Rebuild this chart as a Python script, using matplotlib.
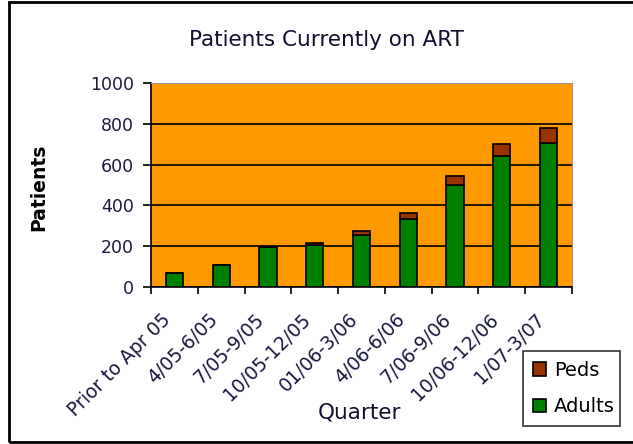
import numpy as np
import matplotlib.pyplot as plt
from matplotlib.patches import Rectangle

# quarterly counts
quarters = ['Prior to Apr 05', '4/05-6/05', '7/05-9/05', '10/05-12/05', '01/06-3/06',
            '4/06-6/06', '7/06-9/06', '10/06-12/06', '1/07-3/07']
adults = [67, 108, 195, 205, 255, 333, 502, 640, 708]
peds = [0, 0, 0, 10, 20, 30, 40, 60, 70]

plt.rcParams['font.family'] = ['DejaVu Sans']

fig = plt.figure(figsize=(6.33, 4.44), dpi=100)
ax = fig.add_axes([151/633, 1 - 287/444, (572-151)/633, (287-83)/444])
ax.set_facecolor('#ff9900')

x = np.arange(len(quarters))
w = 0.37
ax.bar(x, adults, width=w, color='#008000', edgecolor='black', linewidth=1.2,
       label='Adults', zorder=3)
ax.bar(x, peds, width=w, bottom=adults, color='#993300', edgecolor='black',
       linewidth=1.2, label='Peds', zorder=3)

ax.set_xlim(-0.5, len(quarters) - 0.5)
ax.set_ylim(0, 1000)
ax.set_yticks(range(0, 1001, 200))
ax.yaxis.grid(True, color='black', linewidth=1.2, zorder=1)
ax.set_axisbelow(True)

ax.set_xticks(x)
# va='bottom' + big pad puts the slanted labels left of the bar centre, as in the original
ax.set_xticklabels(quarters, rotation=45, ha='right', va='bottom', rotation_mode='anchor',
                   fontsize=13.5, color='#1a1a40')
ax.set_xticks(np.arange(-0.5, len(quarters)), minor=True)
ax.tick_params(axis='x', which='major', length=0, pad=26)
ax.tick_params(axis='x', which='minor', length=5, direction='out', width=1.2)
ax.tick_params(axis='y', length=5.5, direction='out', width=1.2, labelsize=12.5,
               labelcolor='#1a1a40', pad=7)

for side in ['top', 'right']:
    ax.spines[side].set_color('#999999')
for side in ['left', 'bottom']:
    ax.spines[side].set_linewidth(1.2)

fig.text(326/633, 1 - 40/444, 'Patients Currently on ART', ha='center', va='center',
         fontsize=15.5, color='#101030')
fig.text(39/633, 1 - 187/444, 'Patients', rotation=90, ha='center', va='center',
         fontsize=13.5, fontweight='bold')
fig.text(359/633, 1 - 412/444, 'Quarter', ha='center', va='center',
         fontsize=15.5, color='#101030')

handles, labels = ax.get_legend_handles_labels()
leg = fig.legend(handles[::-1], labels[::-1], loc='lower left',
                 bbox_to_anchor=(523/633, 1 - 426/444, 97/633, 76/444), mode='expand',
                 fontsize=14, frameon=True, fancybox=False, edgecolor='black',
                 handlelength=0.7, handleheight=0.7, handletextpad=0.4,
                 labelspacing=0.9, borderpad=0.5, borderaxespad=0)
leg.get_frame().set_linewidth(1.2)

fig.patches.append(Rectangle((9/633, 2/444), 1.2, 440/444, transform=fig.transFigure,
                             fill=False, edgecolor='black', linewidth=2))

fig.savefig('out.png', dpi=100)
